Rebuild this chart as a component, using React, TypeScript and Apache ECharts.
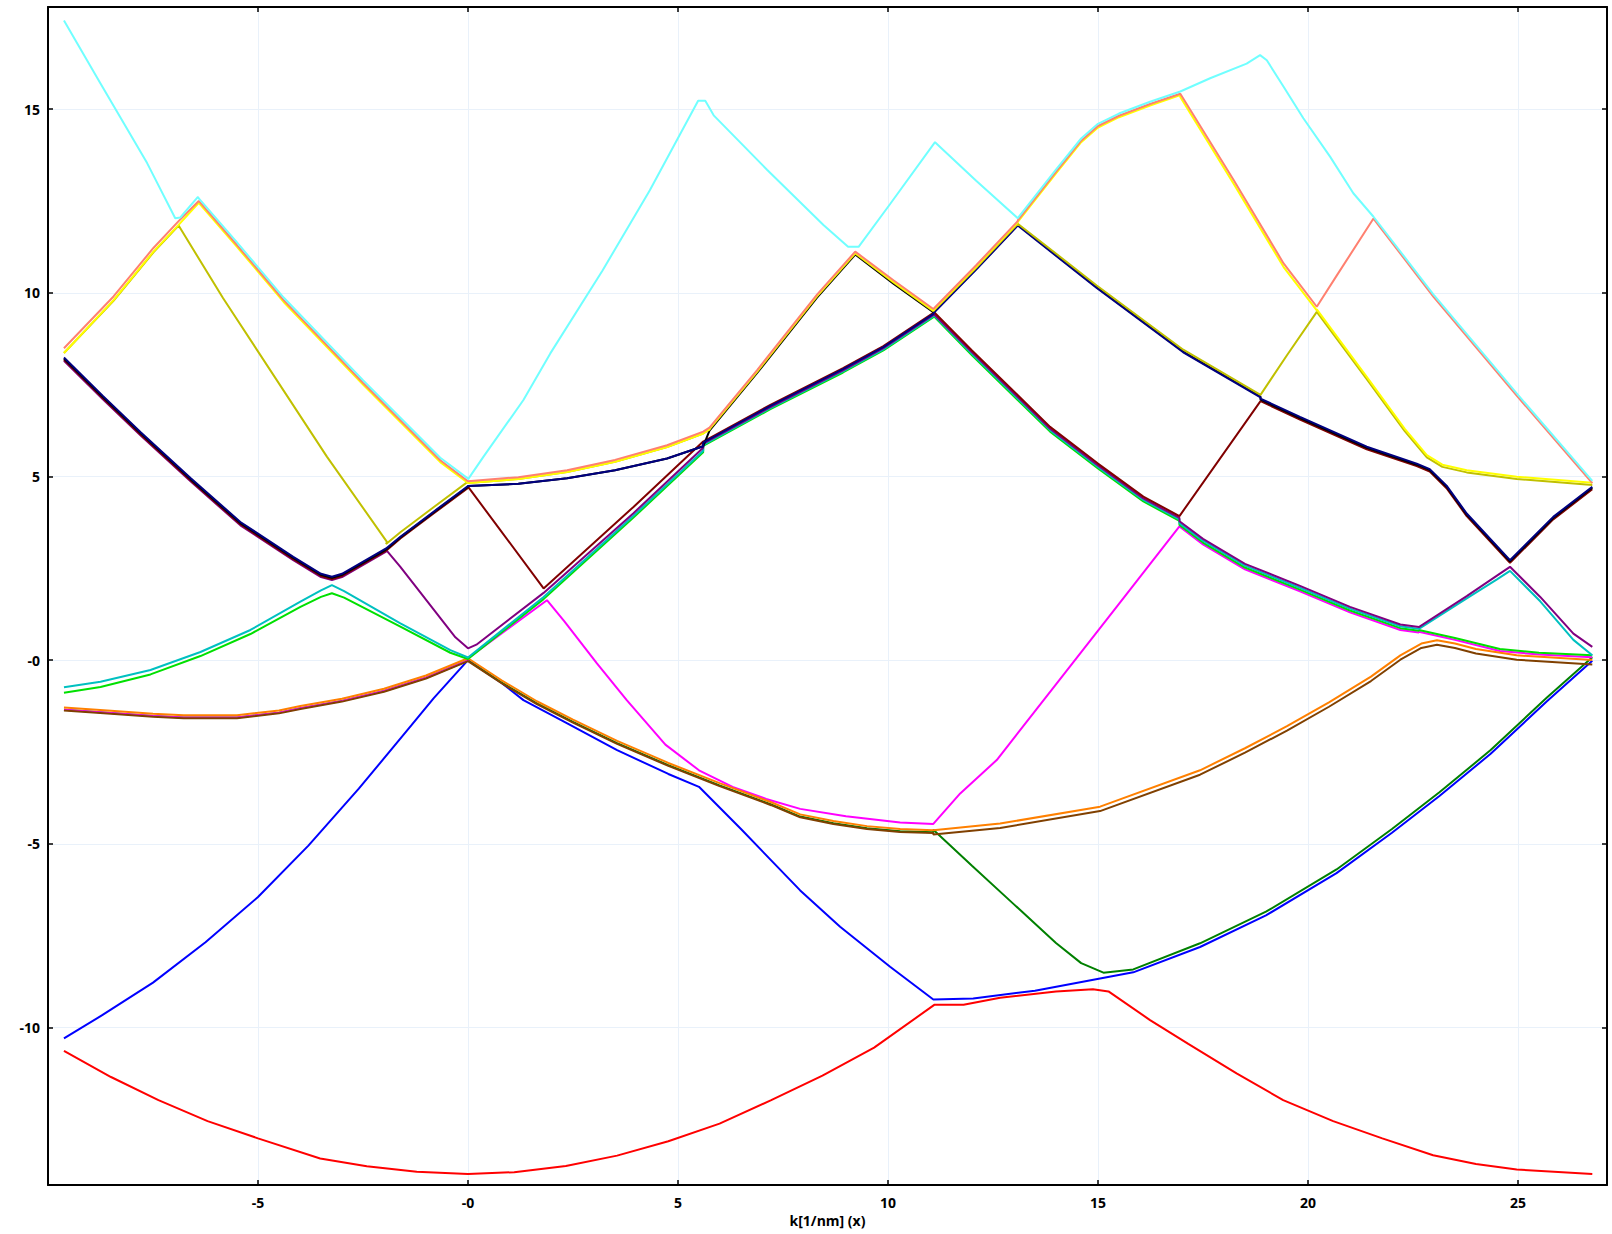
import React, { useEffect, useRef } from 'react';
import * as echarts from 'echarts';

type P = [number, number];

// ---------- read-off segments (k, E) ----------
const RED: P[] = [[-9.62,-10.64],[-8.5,-11.35],[-7.37,-11.98],[-6.2,-12.55],[-5.0,-13.02],[-3.52,-13.57],[-2.41,-13.78],[-1.22,-13.93],[0,-13.99],[1.1,-13.94],[2.33,-13.77],[3.55,-13.49],[4.77,-13.1],[5.99,-12.62],[7.22,-11.98],[8.44,-11.31],[9.67,-10.55],[11.11,-9.38],[11.8,-9.38],[12.67,-9.19],[14.0,-9.02],[14.88,-8.96],[15.25,-9.02],[16.24,-9.8],[17.15,-10.45],[18.3,-11.25],[19.41,-11.98],[20.6,-12.55],[21.77,-13.02],[22.98,-13.48],[24.0,-13.72],[24.97,-13.87],[26.77,-13.99]];

const BLUE_L: P[] = [[-9.62,-10.3],[-8.7,-9.66],[-7.5,-8.78],[-6.25,-7.68],[-5.0,-6.45],[-3.8,-5.05],[-2.6,-3.5],[-1.35,-1.78],[-0.82,-1.04],[0,0]];
const BLUE_M: P[] = [[0,0],[0.8,-0.62],[1.32,-1.09],[2.33,-1.7],[3.55,-2.45],[4.77,-3.1],[5.5,-3.45],[6.5,-4.6],[7.91,-6.27],[8.86,-7.26],[10.05,-8.35],[11.08,-9.24],[12.03,-9.21],[13.5,-9.0],[15.05,-8.67]];
const GB_R: P[] = [[15.05,-8.67],[15.84,-8.5],[17.43,-7.81],[19.0,-6.95],[20.68,-5.8],[22.0,-4.7],[23.13,-3.7],[24.35,-2.55],[25.69,-1.12],[26.77,-0.02]];
const GREEN_R: P[] = [[11.08,-4.62],[12.0,-5.6],[13.0,-6.65],[14.0,-7.7],[14.6,-8.25],[15.13,-8.51],[15.84,-8.42]];

const LB: P[] = [[-9.62,-1.29],[-8.5,-1.38],[-7.5,-1.46],[-6.77,-1.5],[-5.5,-1.5],[-4.5,-1.37],[-3.99,-1.25],[-3.0,-1.05],[-2.0,-0.78],[-1.0,-0.42],[0,0.05]];
const MB: P[] = [[0,0.05],[0.8,-0.55],[1.64,-1.12],[2.5,-1.62],[3.55,-2.2],[4.77,-2.8],[5.99,-3.35],[7.22,-3.87],[7.91,-4.2],[8.7,-4.38],[9.5,-4.52],[10.29,-4.6],[11.08,-4.63]];
const RB: P[] = [[11.08,-4.63],[12.67,-4.45],[15.05,-3.99],[17.43,-3.0],[18.5,-2.4],[19.5,-1.8],[20.5,-1.15],[21.5,-0.45],[22.2,0.13],[22.7,0.45],[23.07,0.54],[23.5,0.45],[24.0,0.3],[24.97,0.13],[26.77,0.0]];

const MAG_M: P[] = [[0,0.05],[1.88,1.63],[2.3,1.05],[3.07,-0.09],[3.78,-1.09],[4.7,-2.3],[5.5,-3.0],[6.3,-3.45],[7.1,-3.78],[7.91,-4.05],[9.0,-4.25],[10.29,-4.42],[11.08,-4.46],[11.72,-3.63],[12.59,-2.72],[14.0,-0.66],[15.5,1.53],[16.94,3.64]];

const LIME_L: P[] = [[-9.62,-0.89],[-8.75,-0.73],[-7.56,-0.39],[-6.37,0.11],[-5.18,0.71],[-3.99,1.45],[-3.5,1.72],[-3.24,1.82],[-2.95,1.7],[-1.61,0.91],[-0.42,0.2],[0,0.03]];
const DKC_L: P[] = [[-9.62,-0.74],[-8.75,-0.59],[-7.56,-0.27],[-6.37,0.22],[-5.18,0.82],[-3.99,1.59],[-3.5,1.9],[-3.24,2.04],[-2.95,1.88],[-1.61,1.0],[-0.42,0.27],[0,0.07]];
const LIME_U: P[] = [[0,0.03],[1.8,1.66],[3.94,3.88],[5.6,5.66]];
const DKC_U: P[] = [[0,0.07],[1.8,1.72],[3.94,3.93],[5.6,5.7]];
const PUR_U: P[] = [[-1.95,3.0],[-1.61,2.54],[-0.82,1.38],[-0.3,0.62],[0,0.32],[0.2,0.42],[1.8,1.83],[3.94,4.0],[5.6,5.78]];
const MAR_V: P[] = [[0,4.72],[0.77,3.54],[1.8,1.95],[3.94,4.17],[5.6,5.95]];

const SL: P[] = [[5.6,5.95],[7.2,6.95],[8.93,7.95],[9.89,8.55],[11.1,9.47]];
const D1: P[] = [[11.1,9.47],[12.0,8.43],[13.86,6.35],[15.0,5.35],[16.08,4.45],[16.94,3.92]];
const D2: P[] = [[16.94,3.78],[17.5,3.3],[18.5,2.62],[19.81,2.02],[21.0,1.45],[22.2,0.97],[22.64,0.9]];
const D3: P[] = [[22.64,0.82],[23.5,0.6],[24.57,0.3],[25.5,0.2],[26.77,0.13]];
const PUR_R: P[] = [[22.64,0.9],[23.78,1.74],[24.5,2.3],[24.81,2.54],[25.53,1.72],[26.32,0.72],[26.77,0.36]];
const DKC_R: P[] = [[22.64,0.85],[23.78,1.68],[24.5,2.2],[24.81,2.43],[25.53,1.6],[26.32,0.55],[26.77,0.13]];
const MAR_R: P[] = [[16.94,3.92],[18.87,7.05]];

const NB: P[] = [[-9.62,8.24],[-8.7,7.2],[-7.8,6.21],[-6.6,4.95],[-5.42,3.76],[-4.16,2.81],[-3.5,2.35],[-3.24,2.27],[-3.0,2.35],[-1.95,3.04]];
const NB2: P[] = [[-1.95,3.04],[-1.61,3.36],[-0.82,4.04],[0,4.74]];
const SB_N: P[] = [[0,4.74],[1.2,4.8],[2.36,4.95],[3.5,5.17],[4.74,5.49],[5.6,5.82]];
const SB_S: P[] = [[0,4.87],[1.2,4.98],[2.36,5.17],[3.5,5.45],[4.74,5.85],[5.6,6.22],[5.75,6.33]];
const STU: P[] = [[5.75,6.33],[6.88,7.89],[8.31,9.95],[9.22,11.12]];
const PD: P[] = [[9.22,11.12],[10.13,10.34],[11.08,9.56]];
const RB1: P[] = [[11.08,9.56],[12.1,10.75],[13.09,11.95]];
const OD: P[] = [[13.09,11.89],[14.97,10.2],[17.03,8.45],[18.87,7.22]];
const ND: P[] = [[18.87,7.12],[19.81,6.62],[21.4,5.81],[22.59,5.35],[22.9,5.2],[23.3,4.75],[23.78,3.99],[24.81,2.72]];
const NU: P[] = [[24.81,2.72],[25.84,3.9],[26.77,4.72]];

const OLIVE_L: P[] = [[-9.62,8.36],[-8.44,9.78],[-7.49,11.1],[-6.89,11.83],[-5.83,9.85],[-3.36,5.54],[-1.93,3.22]];
const OU: P[] = [[18.87,7.22],[19.5,8.3],[20.21,9.48]];
const YD: P[] = [[20.21,9.55],[21.4,7.71],[22.3,6.3],[22.83,5.58],[23.2,5.32],[23.78,5.17],[24.97,4.99],[26.77,4.83]];

const YEL_L: P[] = [[-9.62,8.36],[-8.44,9.8],[-7.49,11.12],[-6.89,11.85],[-6.41,12.45]];
const SAL_L: P[] = [[-9.62,8.49],[-8.44,9.9],[-7.49,11.22],[-6.89,11.95],[-6.41,12.5]];
const SD: P[] = [[-6.41,12.5],[-5.5,11.3],[-4.39,9.8],[-2.5,7.55],[-0.66,5.44],[0,4.87]];
const CU: P[] = [[13.09,12.03],[14.0,13.35],[14.6,14.2],[15.0,14.6],[15.5,14.88],[16.24,15.2],[16.96,15.48]];
const YS: P[] = [[16.96,15.43],[18.23,13.07],[19.42,10.8],[20.21,9.62]];
const SU: P[] = [[20.21,9.62],[20.68,10.46],[21.56,12.02]];
const CD: P[] = [[21.56,12.07],[22.99,9.95],[24.97,7.26],[26.77,4.88]];

const CL: P[] = [[-9.62,17.41],[-8.75,15.7],[-7.64,13.53],[-6.97,12.03],[-6.85,12.05],[-6.43,12.61]];
const CM: P[] = [[0,4.92],[0.37,5.54],[1.32,7.08],[1.96,8.35],[3.2,10.6],[4.33,12.79],[5.48,15.23],[5.65,15.23],[5.85,14.83],[7.12,13.35],[8.47,11.84],[9.05,11.25],[9.3,11.25],[10.06,12.43],[11.12,14.1],[12.1,13.05],[13.09,12.03]];
const C2: P[] = [[16.96,15.48],[17.67,15.84],[18.54,16.24],[18.86,16.47],[19.02,16.33],[19.42,15.61],[19.89,14.75],[20.53,13.7],[21.08,12.71],[21.56,12.07]];

const X_TICKS = { min: -10, max: 27.12, step: 5 };
const Y_RANGE = { min: -14.29, max: 17.78 };

const up = (seg: P[], d: number): P[] => seg.map(([x, y]) => [x, Math.round((y + d) * 1000) / 1000] as P);
const join = (...segs: P[][]): P[] => ([] as P[]).concat(...segs);

// draw order = z order (last on top)
const BANDS: { name: string; color: string; data: P[] }[] = [
  { name: 'band1', color: '#ff0000', data: join(RED) },
  { name: 'band2', color: '#0000ff', data: join(BLUE_L, BLUE_M, GB_R) },
  { name: 'band3', color: '#008000', data: join(up(LB, -0.06), up(MB, -0.06), GREEN_R, up(GB_R.slice(2), 0.1)) },
  { name: 'band6', color: '#ff00ff', data: join(up(LB, -0.06), MAG_M, up(D2, -0.15), up(D3, -0.05)) },
  { name: 'band4', color: '#804000', data: join(up(LB, -0.08), up(MB, -0.08), up(RB, -0.12)) },
  { name: 'band5', color: '#ff8000', data: join(LB, MB, RB) },
  { name: 'band7', color: '#00e000', data: join(LIME_L, LIME_U, up(SL, -0.12), up(D1, -0.13), up(D2, -0.1), D3) },
  { name: 'band8', color: '#00c0c0', data: join(DKC_L, DKC_U, up(SL, -0.09), up(D1, -0.09), up(D2, -0.05), DKC_R) },
  { name: 'band9', color: '#800080', data: join(up(NB, -0.09), PUR_U, up(SL, -0.06), up(D1, -0.05), D2, PUR_R) },
  { name: 'band10', color: '#800000', data: join(up(NB, -0.06), up(NB2, -0.05), MAR_V, SL, D1, MAR_R, up(ND, -0.07), up(NU, -0.07)) },
  { name: 'band12', color: '#000000', data: join(up(NB, -0.03), up(NB2, -0.02), SB_N, up(STU, -0.08), up(PD, -0.09), up(RB1, -0.1), up(OD, -0.05), up(ND, -0.03), up(NU, -0.03)) },
  { name: 'band11', color: '#000080', data: join(NB, NB2, SB_N, up(SL, -0.03), up(RB1, -0.12), up(OD, -0.07), ND, NU) },
  { name: 'band13', color: '#c0c000', data: join(OLIVE_L, up(NB2, 0.12), up(SB_S, -0.05), up(STU, -0.05), up(PD, -0.06), up(RB1, -0.07), OD, OU, up(YD, -0.06)) },
  { name: 'band14', color: '#ffff00', data: join(YEL_L, up(SD, -0.05), up(SB_S, -0.05), up(STU, -0.03), up(PD, -0.04), up(RB1, -0.04), up(CU, -0.1), up(YS, -0.1), YD) },
  { name: 'band15', color: '#ff8070', data: join(SAL_L, SD, SB_S, STU, PD, RB1, up(CU, -0.06), YS, SU, up(CD, -0.06)) },
  { name: 'band16', color: '#70ffff', data: join(CL, up(SD, 0.07), CM, CU, C2, CD) },
];

const FONT = "'Open Sans', 'Noto Sans', 'DejaVu Sans', sans-serif";
const fmt = (v: number) => {
  if (Math.abs(v) < 1e-9) return '-0';
  if (Math.abs(v / 5 - Math.round(v / 5)) > 1e-6) return '';
  return String(Math.round(v));
};

export default function App() {
  const ref = useRef<HTMLDivElement>(null);
  useEffect(() => {
    if (!ref.current) return;
    const chart = echarts.init(ref.current, undefined, { renderer: 'svg' });
    const axisLine = { show: true, onZero: false, lineStyle: { color: '#000', width: 2 } };
    const axisTick = { show: true, inside: true, length: 5, lineStyle: { color: '#000', width: 1.5 } };
    const label = { color: '#000', fontWeight: 'bold' as const, fontSize: 14, fontFamily: FONT, formatter: fmt };
    const split = { show: true, lineStyle: { color: '#e9f1fa', width: 1 } };
    chart.setOption({
      animation: false,
      backgroundColor: '#ffffff',
      grid: { left: 48, right: 5, top: 7, bottom: 49, containLabel: false },
      xAxis: [
        {
          type: 'value', position: 'bottom', min: X_TICKS.min, max: X_TICKS.max, interval: X_TICKS.step,
          axisLine, axisTick, splitLine: split,
          axisLabel: { ...label, margin: 10, showMinLabel: false, showMaxLabel: false },
          name: 'k[1/nm] (x)', nameLocation: 'middle', nameGap: 25,
          nameTextStyle: { color: '#000', fontWeight: 'bold', fontSize: 14, fontFamily: FONT },
        },
        {
          type: 'value', position: 'top', min: X_TICKS.min, max: X_TICKS.max, interval: X_TICKS.step,
          axisLine, axisTick, splitLine: { show: false }, axisLabel: { show: false },
        },
      ],
      yAxis: [
        {
          type: 'value', position: 'left', min: Y_RANGE.min, max: Y_RANGE.max, splitNumber: 6,
          axisLine, axisTick, splitLine: split,
          axisLabel: { ...label, margin: 8, showMinLabel: false, showMaxLabel: false },
        },
        {
          type: 'value', position: 'right', min: Y_RANGE.min, max: Y_RANGE.max, splitNumber: 6,
          axisLine, axisTick, splitLine: { show: false }, axisLabel: { show: false },
        },
      ],
      series: BANDS.map((b) => ({
        name: b.name,
        type: 'line',
        xAxisIndex: 0,
        yAxisIndex: 0,
        data: b.data,
        showSymbol: false,
        symbol: 'none',
        silent: true,
        lineStyle: { color: b.color, width: 2 },
        itemStyle: { color: b.color },
        emphasis: { disabled: true },
      })),
    });
    return () => chart.dispose();
  }, []);
  return <div ref={ref} style={{ position: 'absolute', left: 0, top: 0, width: 1612, height: 1234 }} />;
}
